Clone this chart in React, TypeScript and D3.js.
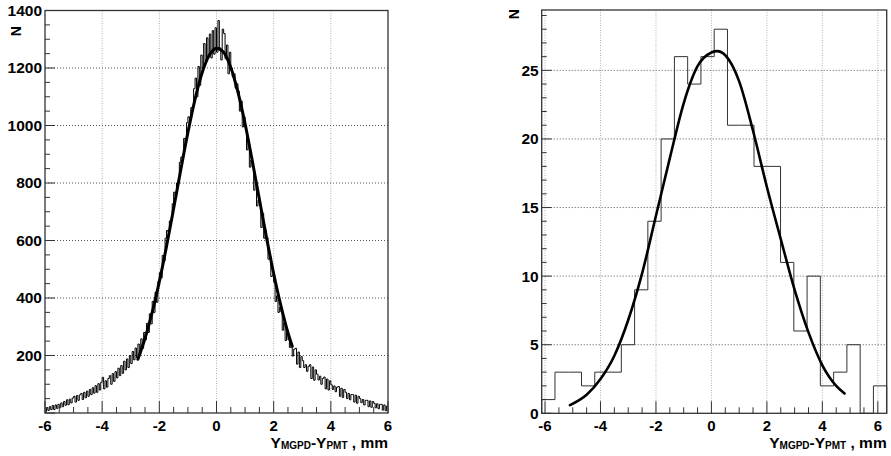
import * as d3 from "d3"

const W = 891
const H = 456

// left pad: residuals in 0.05 mm bins, -6 .. 6
const leftBinStart = -6
const leftBinWidth = 0.05
const leftCounts = [
  5, 19, 9, 22, 12, 26, 12, 28, 16, 30, 18, 35, 22, 40, 27, 46, 29, 48, 35, 52,
  58, 38, 61, 44, 63, 68, 47, 72, 53, 76, 58, 82, 64, 88, 69, 95, 72, 102, 80, 107,
  124, 84, 112, 90, 120, 130, 100, 137, 110, 144, 122, 156, 130, 165, 138, 180, 150, 188, 158, 200,
  172, 214, 185, 226, 192, 240, 205, 258, 225, 280, 255, 312, 280, 345, 310, 388, 350, 420, 385, 458,
  488, 470, 548, 528, 608, 635, 630, 668, 668, 728, 768, 755, 800, 800, 872, 890, 892, 955, 935, 1010,
  1030, 1022, 1062, 1060, 1128, 1165, 1100, 1205, 1140, 1245, 1200, 1285, 1225, 1305, 1240, 1318, 1235, 1330, 1248, 1340,
  1255, 1365, 1270, 1228, 1335, 1320, 1232, 1280, 1180, 1255, 1200, 1170, 1180, 1130, 1145, 1120, 1050, 1085, 995, 1030,
  995, 915, 950, 855, 880, 858, 775, 815, 720, 740, 728, 645, 695, 608, 635, 610, 535, 545, 475, 480,
  455, 388, 408, 350, 368, 352, 288, 315, 252, 280, 255, 228, 240, 198, 222, 225, 170, 212, 158, 196,
  182, 158, 168, 145, 162, 168, 120, 160, 114, 150, 135, 115, 128, 100, 120, 125, 84, 118, 80, 112,
  98, 82, 94, 74, 90, 92, 58, 86, 54, 82, 72, 50, 68, 46, 64, 64, 38, 62, 34, 58,
  50, 36, 47, 28, 44, 44, 22, 42, 20, 40, 34, 18, 32, 15, 30, 30, 10, 28, 8, 24,
]
const leftFitX = [-2.75, -2.5, -2.25, -2, -1.75, -1.5, -1.25, -1, -0.75, -0.5, -0.25, 0, 0.25, 0.5, 0.75, 1, 1.25, 1.5, 1.75, 2, 2.25, 2.5, 2.65]
const leftFitY = [187, 260, 350, 457, 579, 711, 846, 976, 1092, 1184, 1245, 1269, 1255, 1202, 1116, 1006, 878, 743, 610, 485, 374, 279, 232]

// right pad: 26 bins over the axis range
const rightXMin = -6.12
const rightXMax = 6.32
const rightCounts = [1, 3, 3, 2, 3, 3, 5, 9, 14, 20, 26, 24, 26, 28, 21, 21, 18, 18, 11, 6, 10, 2, 3, 5, 0, 2]
const rightFitX = [-5.1, -4.5, -4, -3.5, -3, -2.5, -2, -1.5, -1, -0.5, 0, 0.2, 0.5, 1, 1.5, 2, 2.5, 3, 3.5, 4, 4.5, 4.8]
const rightFitY = [0.6, 1.35, 2.5, 4.2, 6.8, 10.2, 14.4, 18.6, 22.6, 25.3, 26.3, 26.4, 26.1, 24.2, 20.6, 16.5, 12.7, 9.0, 5.9, 3.5, 2.0, 1.45]

const xMajor = [-6, -4, -2, 0, 2, 4, 6]

const font = "'Liberation Sans', Arial, Helvetica, sans-serif"

type PadProps = {
  x0: number; x1: number; y0: number; y1: number
  xDomain: [number, number]; yDomain: [number, number]
  yMajor: number[]; yMinorStep: number; yLabels: number[]
  histPoints: [number, number][]
  fitX: number[]; fitY: number[]; fitWidth: number
  histColor: string
}

function Pad(p: PadProps) {
  const x = d3.scaleLinear().domain(p.xDomain).range([p.x0, p.x1])
  const y = d3.scaleLinear().domain(p.yDomain).range([p.y1, p.y0])

  const xMinor = d3.range(-6, p.xDomain[1] + 0.001, 0.5)
  const yMinor = d3.range(p.yDomain[0], p.yDomain[1] + 0.001, p.yMinorStep)

  const step = d3.line<[number, number]>().x(d => x(d[0])).y(d => y(d[1])).curve(d3.curveStepAfter)
  const fit = d3.line<number>().x(d => x(d)).y((d, i) => y(p.fitY[i])).curve(d3.curveMonotoneX)

  return (
    <g>
      {/* grid */}
      {xMajor.filter(v => x(v) > p.x0 + 1 && x(v) < p.x1 - 1).map(v => (
        <line key={"gx" + v} x1={x(v)} x2={x(v)} y1={p.y0} y2={p.y1} stroke="#b0b0b0" strokeDasharray="1,1.5" />
      ))}
      {p.yMajor.filter(v => y(v) > p.y0 + 1 && y(v) < p.y1 - 1).map(v => (
        <line key={"gy" + v} x1={p.x0} x2={p.x1} y1={y(v)} y2={y(v)} stroke="#555" strokeDasharray="1,2" />
      ))}

      {/* histogram */}
      <path d={step(p.histPoints) || ""} fill="none" stroke={p.histColor} strokeWidth={1} />
      {/* fit */}
      <path d={fit(p.fitX) || ""} fill="none" stroke="#000" strokeWidth={p.fitWidth} strokeLinecap="round" />

      {/* ticks */}
      {xMinor.map(v => {
        const major = xMajor.includes(v)
        return <line key={"tx" + v} x1={x(v)} x2={x(v)} y1={p.y1} y2={p.y1 - (major ? 12 : 6)} stroke="#333" />
      })}
      {yMinor.map(v => {
        const major = p.yMajor.includes(v)
        return <line key={"ty" + v} x1={p.x0} x2={p.x0 + (major ? 10 : 5)} y1={y(v)} y2={y(v)} stroke="#333" />
      })}

      {/* frame */}
      <rect x={p.x0} y={p.y0} width={p.x1 - p.x0} height={p.y1 - p.y0} fill="none" stroke="#333" strokeWidth={1.3} />

      {/* labels */}
      {xMajor.map(v => (
        <text key={"lx" + v} x={x(v)} y={p.y1 + 18} textAnchor="middle" fontSize={15} fontWeight="bold" fontFamily={font}>{v}</text>
      ))}
      {p.yLabels.map(v => (
        <text key={"ly" + v} x={p.x0 - 3} y={y(v)} dy="0.35em" textAnchor="end" fontSize={15.5} fontWeight="bold" fontFamily={font}>{v}</text>
      ))}
      <text x={p.x1} y={p.y1 + 34.5} textAnchor="end" fontSize={15.5} fontWeight="bold" fontFamily={font}>
        Y<tspan fontSize={10} dy={1.5}>MGPD</tspan><tspan dy={-1.5}>-Y</tspan><tspan fontSize={10} dy={1.5}>PMT</tspan><tspan dy={-1.5}> , mm</tspan>
      </text>
    </g>
  )
}

export default function App() {
  const leftPoints: [number, number][] = leftCounts.map((c, i) => [leftBinStart + i * leftBinWidth, c] as [number, number])
  leftPoints.push([leftBinStart + leftCounts.length * leftBinWidth, leftCounts[leftCounts.length - 1]])

  const rw = (rightXMax - rightXMin) / rightCounts.length
  const rightPoints: [number, number][] = [[rightXMin, 0]]
  rightCounts.forEach((c, i) => rightPoints.push([rightXMin + i * rw, c]))
  rightPoints.push([rightXMax, rightCounts[rightCounts.length - 1]])
  rightPoints.push([rightXMax, 0])

  return (
    <svg width={W} height={H} style={{ position: "absolute", left: 0, top: 0, background: "#fff" }}>
      <Pad x0={45} x1={388} y0={10.5} y1={413}
        xDomain={[-6, 6]} yDomain={[0, 1400]}
        yMajor={d3.range(0, 1401, 200)} yMinorStep={50} yLabels={[200, 400, 600, 800, 1000, 1200, 1400]}
        histPoints={leftPoints} fitX={leftFitX} fitY={leftFitY} fitWidth={3} histColor="#000" />
      <text transform="translate(21,26) rotate(-90)" textAnchor="end" fontSize={14} fontWeight="bold" fontFamily={font}>N</text>

      <Pad x0={541.7} x1={886.7} y0={10} y1={413.3}
        xDomain={[rightXMin, rightXMax]} yDomain={[0, 29.4]}
        yMajor={[0, 5, 10, 15, 20, 25]} yMinorStep={1} yLabels={[0, 5, 10, 15, 20, 25]}
        histPoints={rightPoints} fitX={rightFitX} fitY={rightFitY} fitWidth={2.6} histColor="#333" />
      <text transform="translate(519,9) rotate(-90)" textAnchor="end" fontSize={14} fontWeight="bold" fontFamily={font}>N</text>
    </svg>
  )
}
